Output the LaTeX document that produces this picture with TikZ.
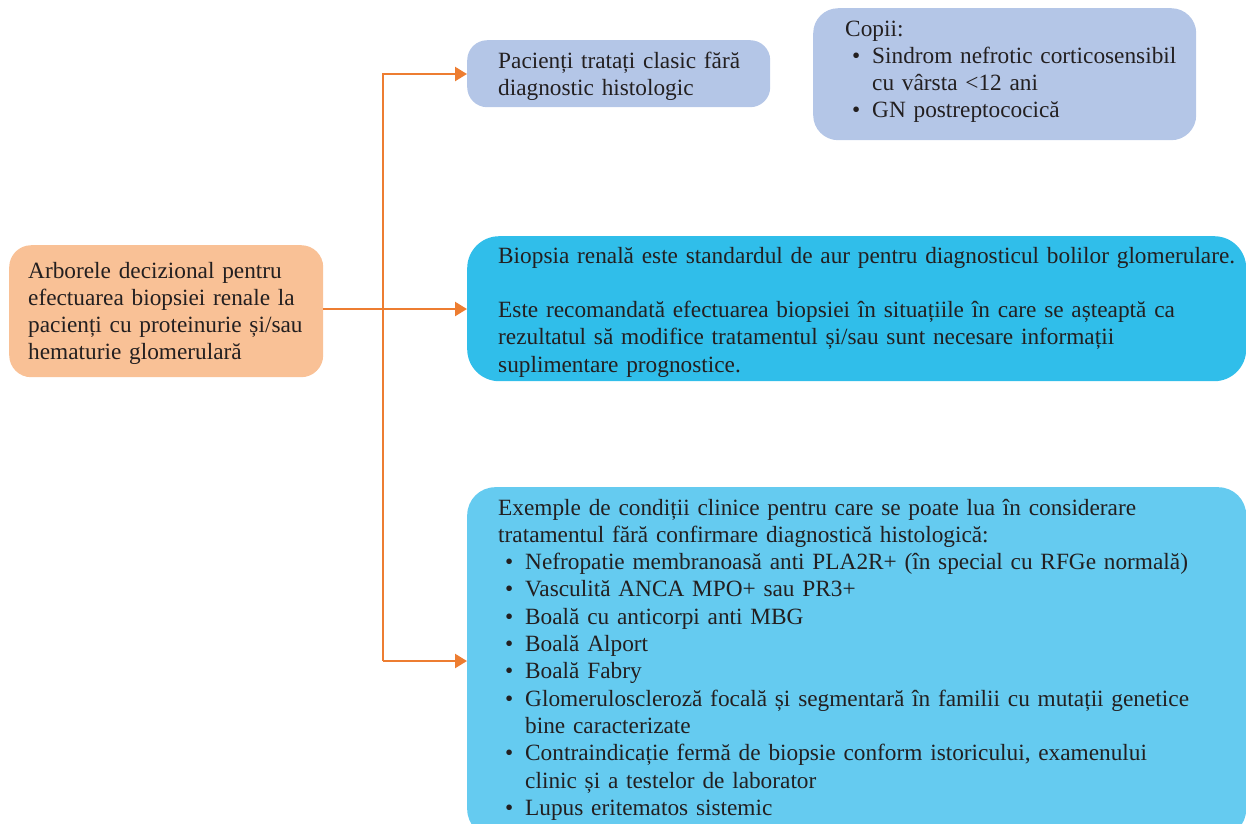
\documentclass[tikz,border=0pt]{standalone}
\usepackage{fontspec}
\setmainfont{Liberation Serif}
\usetikzlibrary{arrows.meta}

\definecolor{peach}{HTML}{F9C196}
\definecolor{lavender}{HTML}{B4C6E7}
\definecolor{deepsky}{HTML}{30BEEA}
\definecolor{lightsky}{HTML}{65CBF0}
\definecolor{wire}{HTML}{ED7D31}
\definecolor{ink}{HTML}{231F20}

\tikzset{
  panel/.style={draw=none, anchor=north west, inner sep=0pt},
  body/.style={inner sep=0pt, anchor=base west, align=left, text=ink,
    font=\fontsize{23.3}{27.3}\selectfont},
  wireline/.style={draw=wire, line width=2.3pt},
  arrowline/.style={wireline, -{Triangle[length=12pt, width=14pt]}},
}

% bullet item and its continuation lines
\newcommand{\bitem}{\hspace*{7pt}\makebox[20pt][l]{•}}
\newcommand{\bcont}{\hspace*{27pt}}

\begin{document}
\begin{tikzpicture}[x=1pt, y=-1pt]
\useasboundingbox (0,0) rectangle (1246,823);
\clip (0,0) rectangle (1246,823);

% boxes
\node[panel, fill=peach, rounded corners=22pt, minimum width=314pt, minimum height=132pt] (root) at (9,245) {};
\node[panel, fill=lavender, rounded corners=20pt, minimum width=303pt, minimum height=67pt] (classic) at (467,40) {};
\node[panel, fill=lavender, rounded corners=25pt, minimum width=383pt, minimum height=132pt] (children) at (813,8) {};
\node[panel, fill=deepsky, rounded corners=32pt, minimum width=779pt, minimum height=145pt] (biopsy) at (467,236) {};
\node[panel, fill=lightsky, rounded corners=28pt, minimum width=779pt, minimum height=350pt] (examples) at (467,487) {};

% texts
\node[body, text width=300pt] (rootText) at (28,278)
  {Arborele decizional pentru\\efectuarea biopsiei renale la\\pacienți cu proteinurie și/sau\\hematurie glomerulară};
\node[body, text width=290pt] (classicText) at (498,68)
  {Pacienți tratați clasic fără\\diagnostic histologic};
\node[body, text width=370pt] (childrenText) at (845,36)
  {Copii:\\\bitem Sindrom nefrotic corticosensibil\\\bcont cu vârsta <12 ani\\\bitem GN postreptococică};
\node[body, text width=760pt] (biopsyText) at (498,263)
  {Biopsia renală este standardul de aur pentru diagnosticul bolilor glomerulare.\\[27.3pt]Este recomandată efectuarea biopsiei în situațiile în care se așteaptă ca\\rezultatul să modifice tratamentul și/sau sunt necesare informații\\suplimentare prognostice.};
\node[body, text width=760pt] (examplesText) at (498,515)
  {Exemple de condiții clinice pentru care se poate lua în considerare\\tratamentul fără confirmare diagnostică histologică:\\
   \bitem Nefropatie membranoasă anti PLA2R+ (în special cu RFGe normală)\\
   \bitem Vasculită ANCA MPO+ sau PR3+\\
   \bitem Boală cu anticorpi anti MBG\\
   \bitem Boală Alport\\
   \bitem Boală Fabry\\
   \bitem Glomeruloscleroză focală și segmentară în familii cu mutații genetice\\
   \bcont bine caracterizate\\
   \bitem Contraindicație fermă de biopsie conform istoricului, examenului\\
   \bcont clinic și a testelor de laborator\\
   \bitem Lupus eritematos sistemic};

% connectors
\coordinate (trunkTop) at (383,74);
\coordinate (trunkBottom) at (383,661);
\coordinate (rootOut) at (root.east |- 0,309);
\draw[arrowline] (trunkBottom) -- (trunkTop) -- (trunkTop -| classic.west);
\draw[arrowline] (trunkBottom) -- (trunkBottom -| examples.west);
\draw[arrowline] (rootOut) -- (rootOut -| biopsy.west);
\end{tikzpicture}
\end{document}
